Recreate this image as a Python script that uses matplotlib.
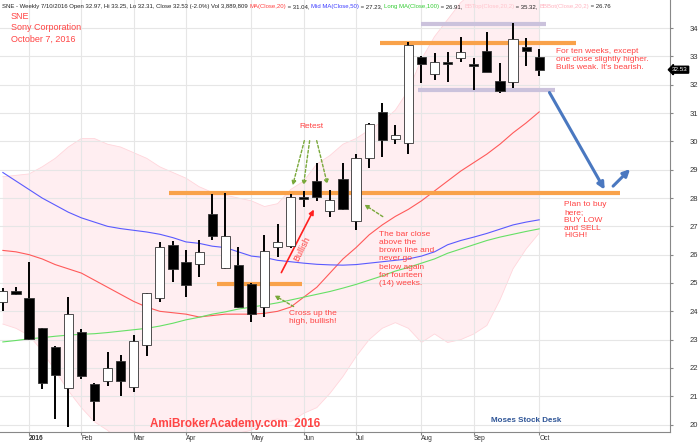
import matplotlib
matplotlib.use("Agg")
from matplotlib import pyplot as plt
import numpy as np

plt.rcParams['font.family'] = ['Liberation Sans', 'DejaVu Sans']

# weekly bars, Dec 24 2015 .. Oct 7 2016 (bar index -2 .. 39)
opens = [24.32, 24.70, 24.48, 23.40, 22.75, 21.28, 23.28, 21.43, 21.55, 22.26,
         21.32, 22.81, 24.48, 26.34, 25.73, 25.67, 27.43, 25.52, 25.63, 24.95,
         24.16, 26.26, 26.32, 28.05, 28.61, 27.55, 28.66, 27.20, 29.40, 31.05,
         30.07, 29.93, 32.99, 32.37, 32.78, 32.95, 32.73, 33.20, 32.14, 32.08,
         33.32, 32.97]
highs = [24.81, 24.85, 25.73, 23.42, 22.77, 24.49, 23.36, 21.48, 22.57, 22.46,
         23.16, 24.66, 26.43, 26.49, 26.16, 26.52, 28.13, 28.19, 26.28, 24.99,
         26.69, 27.07, 28.13, 28.26, 29.22, 28.28, 29.22, 29.54, 30.66, 31.34,
         30.58, 33.50, 33.00, 33.13, 33.16, 33.69, 32.93, 33.87, 32.75, 34.17,
         33.64, 33.25]
lows = [24.00, 24.57, 22.98, 21.25, 20.19, 19.93, 21.61, 20.14, 21.37, 21.02,
        21.14, 22.43, 24.34, 25.02, 24.52, 25.22, 26.52, 25.48, 24.11, 23.63,
        23.81, 25.91, 26.22, 27.67, 27.91, 27.34, 27.58, 26.87, 29.05, 29.46,
        29.91, 29.55, 32.07, 32.16, 32.10, 32.81, 31.81, 32.44, 31.72, 31.87,
        32.67, 32.31]
closes = [24.72, 24.62, 23.02, 21.46, 21.75, 23.89, 21.73, 20.82, 21.99, 21.54,
          22.95, 24.64, 26.28, 25.48, 24.93, 26.08, 26.66, 26.66, 24.14, 23.89,
          26.14, 26.44, 28.05, 27.97, 28.05, 27.93, 27.61, 29.40, 30.61, 30.05,
          30.22, 33.40, 32.72, 32.81, 32.73, 33.16, 32.66, 32.44, 31.78, 33.60,
          33.20, 32.53]

ma20 = [26.15, 26.10, 26.00, 25.85, 25.65, 25.50, 25.35, 25.10, 24.85, 24.60,
        24.35, 24.15, 24.00, 23.95, 23.90, 23.80, 23.85, 23.90, 23.90, 23.90,
        23.93, 24.00, 24.15, 24.50, 24.85, 25.35, 25.85, 26.25, 26.70, 27.05,
        27.35, 27.60, 27.90, 28.25, 28.60, 28.95, 29.25, 29.55, 29.90, 30.30,
        30.65, 31.04]
ma50 = [28.90, 28.60, 28.30, 28.00, 27.75, 27.50, 27.30, 27.15, 27.00, 26.92,
        26.86, 26.80, 26.72, 26.60, 26.45, 26.40, 26.30, 26.25, 26.10, 25.95,
        25.90, 25.80, 25.75, 25.70, 25.66, 25.64, 25.63, 25.65, 25.70, 25.75,
        25.80, 25.85, 25.95, 26.10, 26.35, 26.50, 26.62, 26.75, 26.90, 27.05,
        27.15, 27.23]
ma100 = [22.92, 22.97, 23.03, 23.07, 23.12, 23.16, 23.19, 23.21, 23.25, 23.30,
         23.35, 23.40, 23.48, 23.58, 23.70, 23.79, 23.90, 23.98, 24.08, 24.15,
         24.22, 24.30, 24.40, 24.50, 24.60, 24.70, 24.82, 24.95, 25.10, 25.25,
         25.42, 25.55, 25.70, 25.85, 26.05, 26.20, 26.35, 26.50, 26.62, 26.72,
         26.82, 26.91]
bb_top = [28.75, 28.80, 28.85, 29.10, 29.40, 29.80, 30.10, 30.10, 29.90, 29.80,
          29.60, 29.40, 29.10, 28.90, 28.70, 28.40, 28.20, 28.10, 28.00, 27.90,
          27.70, 27.80, 28.30, 28.60, 29.20, 29.50, 29.90, 30.10, 30.40, 30.70,
          31.10, 31.80, 32.90, 33.70, 34.30, 34.90, 35.30, 35.50, 35.40, 35.10,
          35.20, 35.32]
bb_bot = [23.55, 23.40, 23.15, 22.60, 21.90, 21.20, 20.60, 20.10, 19.80, 19.40,
          19.10, 18.90, 18.90, 19.00, 19.10, 19.20, 19.50, 19.60, 19.70, 19.80,
          20.10, 20.20, 20.10, 20.40, 20.60, 21.10, 21.70, 22.40, 23.00, 23.40,
          23.60, 23.40, 22.90, 23.20, 22.90, 23.00, 23.20, 23.50, 24.40, 25.50,
          26.20, 26.76]

month_pos = [0, 4, 8, 12, 17, 21, 25, 30, 34, 39]
month_labels = ['2016', 'Feb', 'Mar', 'Apr', 'May', 'Jun', 'Jul', 'Aug', 'Sep', 'Oct']

# drawn levels: (price, start bar, end bar, colour)
levels = [(28.17, 10.7, 45.2, '#f9a24a'),
          (33.48, 26.8, 41.8, '#f9a24a'),
          (24.96, 14.4, 20.9, '#f9a24a'),
          (34.13, 30.0, 39.5, '#cbc2dc'),
          (31.81, 29.7, 40.2, '#cbc2dc')]

x = np.arange(len(closes)) - 2
o = np.array(opens); c = np.array(closes)

fig = plt.figure(figsize=(7, 4.43), dpi=100)
ax = fig.add_axes([0, 11 / 443, 670 / 700, 432 / 443])
ax.set_xlim(-2.22, 49.0)
ax.set_ylim(19.74, 34.99)

ax.fill_between(x, bb_bot, bb_top, color='#ffeef1', lw=0, zorder=0.5)
ax.plot(x, bb_top, color='#ffd6dc', lw=0.6, zorder=0.6)
ax.plot(x, bb_bot, color='#ffd6dc', lw=0.6, zorder=0.6)

for v in range(20, 35):
    ax.axhline(v, color='#e6e6e6', lw=0.8, zorder=1)
for p in month_pos:
    ax.axvline(p, color='#e6e6e6', lw=0.8, zorder=1)

ax.plot(x, ma20, color='#ff5a5a', lw=0.8, zorder=2)
ax.plot(x, ma50, color='#5a5aff', lw=0.8, zorder=2)
ax.plot(x, ma100, color='#66e066', lw=0.8, zorder=2)

for lv, a, b, col in levels:
    ax.plot([a, b], [lv, lv], color=col, lw=3, solid_capstyle='butt', zorder=2.5)

# candles
ax.vlines(x, lows, highs, color='black', lw=1.4, zorder=3)
fills = ['white' if cc >= oo else 'black' for oo, cc in zip(o, c)]
ax.bar(x, np.maximum(np.abs(c - o), 0.07), bottom=np.minimum(o, c), width=0.7,
       color=fills, edgecolor='#333333', lw=0.6, zorder=4)

red = '#ff4444'
ax.text(-1.38, 34.56, 'SNE\nSony Corporation\nOctober 7, 2016', color=red,
        fontsize=6.5, va='top', ha='left', linespacing=1.3)
ax.text(21.56, 30.51, 'Retest', color=red, fontsize=6, ha='center', va='center')
ax.text(20.9, 26.2, 'Bullish', color=red, fontsize=6.5, ha='center', va='center', rotation=63)
ax.text(19.88, 24.05, 'Cross up the\nhigh, bullish!', color=red, fontsize=6,
        ha='left', va='top', linespacing=1.2)
ax.text(26.76, 26.85, 'The bar close\nabove the\nbrown line and\nnever go\nbelow again\n'
        'for fourteen\n(14) weeks.', color=red, fontsize=6, ha='left', va='top', linespacing=1.25)
ax.text(40.29, 33.3, "For ten weeks, except\none close slightly higher.\nBulls weak. It's bearish.",
        color=red, fontsize=6, ha='left', va='top', linespacing=1.25)
ax.text(40.9, 27.88, 'Plan to buy\nhere;\nBUY LOW\nand SELL\nHIGH!', color=red,
        fontsize=6, ha='left', va='top', linespacing=1.15, multialignment='left')
ax.text(9.25, 20.02, 'AmiBrokerAcademy.com  2016', color=red, fontsize=8.4,
        fontweight='bold', ha='left', va='center')
ax.text(35.32, 20.13, 'Moses Stock Desk', color='#2f5597', fontsize=5.8,
        fontweight='bold', ha='left', va='center')

ax.annotate('', xy=(21.87, 27.68), xytext=(19.19, 25.28),
            arrowprops=dict(arrowstyle='-|>', color='#ff2020', lw=1.2, mutation_scale=7))
green_arrows = [((21.1, 30.12), (20.1, 28.35)), ((21.48, 30.12), (20.95, 28.35)),
                ((21.94, 30.12), (22.86, 28.39)), ((27.22, 27.29), (25.46, 27.82)),
                ((20.41, 24.12), (18.58, 24.61))]
for start, end in green_arrows:
    ax.annotate('', xy=end, xytext=start,
                arrowprops=dict(arrowstyle='-|>', color='#79a83a', lw=1.0,
                                linestyle=(0, (2, 1.5)), mutation_scale=6))
ax.annotate('', xy=(44.11, 28.21), xytext=(39.68, 31.81),
            arrowprops=dict(arrowstyle='-|>', color='#4a78c0', lw=2.2, mutation_scale=10))
ax.annotate('', xy=(46.1, 29.09), xytext=(44.5, 28.35),
            arrowprops=dict(arrowstyle='-|>', color='#4a78c0', lw=2.2, mutation_scale=10))

# axes styling
for s in ['left', 'top']:
    ax.spines[s].set_visible(False)
for s in ['right', 'bottom']:
    ax.spines[s].set_color('#888888')
ax.yaxis.tick_right()
ax.set_yticks(range(20, 35))
ax.tick_params(axis='y', length=2, pad=12, labelsize=5.5, colors='#888888', labelcolor='#333333')
ax.set_xticks(month_pos)
ax.set_xticklabels(month_labels)
ax.tick_params(axis='x', length=2, pad=0.5, labelsize=4.8, colors='#888888', labelcolor='#333333')
for lab in ax.get_xticklabels():
    lab.set_horizontalalignment('left')
ax.get_xticklabels()[0].set_fontweight('bold')

ax.text(49.15, 32.53, '32.53', color='white', fontsize=4.5, va='center', ha='left',
        bbox=dict(boxstyle='larrow,pad=0.15', fc='black', ec='black'), clip_on=False)

# header line
parts = [('SNE - Weekly 7/10/2016 Open 32.97, Hi 33.25, Lo 32.31, Close 32.53 (-2.0%) Vol 3,889,809 ', '#222222'),
         ('MA(Close,20)', '#ff4040'), (' = 31.04, ', '#222222'),
         ('Mid MA(Close,50)', '#4040ff'), (' = 27.23, ', '#222222'),
         ('Long MA(Close,100)', '#33cc33'), (' = 26.91, ', '#222222'),
         ('BBTop(Close,20,2)', '#ffc4cc'), (' = 35.32, ', '#222222'),
         ('BBBot(Close,20,2)', '#ffb4c0'), (' = 26.76', '#222222')]
prev = fig.text(0.003, 1 - 9 / 443, parts[0][0], color=parts[0][1], fontsize=4.3, va='bottom')
for txt, col in parts[1:]:
    prev = ax.annotate(txt, xy=(1, 0), xycoords=prev, color=col, fontsize=4.3,
                       va='bottom', ha='left', annotation_clip=False)

fig.savefig('out.png', dpi=100)
